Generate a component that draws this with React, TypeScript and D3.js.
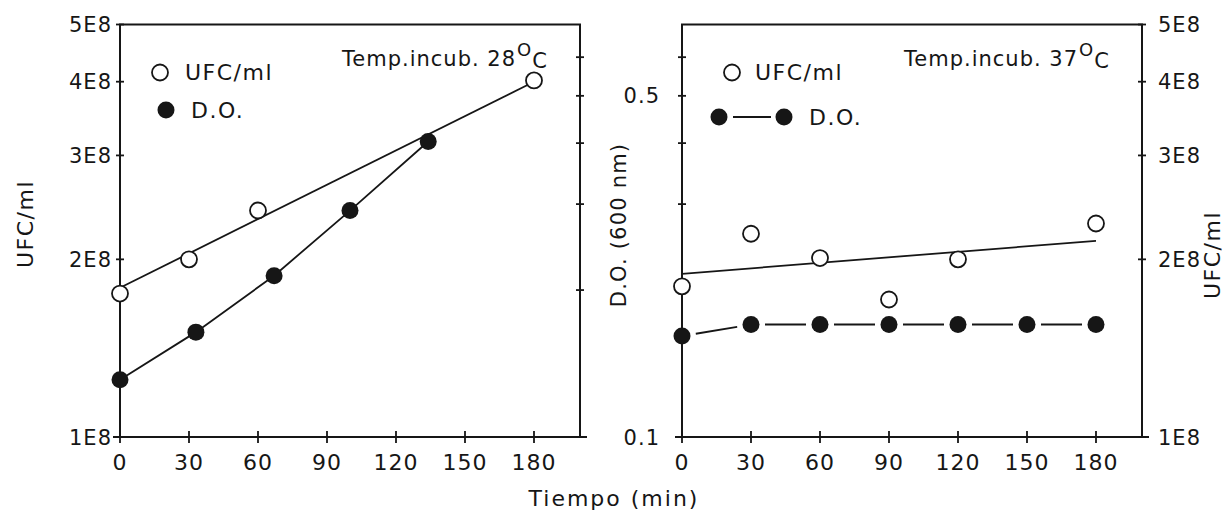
import React from "react";
import * as d3 from "d3";

// ---------- data ----------
const timeTicks = [0, 30, 60, 90, 120, 150, 180];
const timeTickLabels = ["0", "30", "60", "90", "120", "150", "180"];
const ufcTicks = [1e8, 2e8, 3e8, 4e8, 5e8];
const ufcTickLabels = ["1E8", "2E8", "3E8", "4E8", "5E8"];
const doTicks = [0.1, 0.2, 0.3, 0.4, 0.5, 0.6];
const doTickLabels = ["0.1", "", "", "", "0.5", ""];

// 28 °C
const t28Ufc = [0, 30, 60, 180];
const ufc28 = [1.75e8, 2.0e8, 2.42e8, 4.02e8];
const t28Fit = [0, 180];
const ufc28Fit = [1.79e8, 4.0e8];
const t28Do = [0, 33, 67, 100, 134];
const do28 = [0.131, 0.164, 0.214, 0.291, 0.403];

// 37 °C
const t37Ufc = [0, 30, 60, 90, 120, 180];
const ufc37 = [1.8e8, 2.21e8, 2.01e8, 1.71e8, 2.0e8, 2.3e8];
const t37Fit = [0, 180];
const ufc37Fit = [1.89e8, 2.15e8];
const t37Do = [0, 30, 60, 90, 120, 150, 180];
const do37 = [0.161, 0.17, 0.17, 0.17, 0.17, 0.17, 0.17];

// ---------- layout ----------
const W = 1229;
const H = 514;
const TOP = 24.5;
const BOTTOM = 437;
const FONT = "'DejaVu Sans', sans-serif";
const FS = 21;
const INK = "#161616";

type PanelProps = {
  x0: number;
  x1: number;
  ufcLabelsSide: "left" | "right";
  doLabels: boolean;
  tUfc: number[];
  ufc: number[];
  tFit: number[];
  ufcFit: number[];
  tDo: number[];
  doVals: number[];
  trimDo: boolean;
  temp: string;
  legendLine: boolean;
};

function Panel(p: PanelProps) {
  const x = d3.scaleLinear().domain([0, 200]).range([p.x0, p.x1]);
  const yU = d3.scaleLog().domain([1e8, 5e8]).range([BOTTOM, TOP]);
  const yD = d3.scaleLog().domain([0.1, 0.7]).range([BOTTOM, TOP]);

  const ufcAxisX = p.ufcLabelsSide === "left" ? p.x0 : p.x1;
  const doAxisX = p.ufcLabelsSide === "left" ? p.x1 : p.x0;

  const fitLine = d3
    .line<number>()
    .x((_, i) => x(p.tFit[i]))
    .y((d) => yU(d));

  const doPts = p.tDo.map((t, i) => [x(t), yD(p.doVals[i])] as [number, number]);
  const doLine = d3.line<[number, number]>();

  const segs: [number, number, number, number][] = [];
  if (p.trimDo) {
    const g = 14;
    for (let i = 0; i < doPts.length - 1; i++) {
      const [ax, ay] = doPts[i];
      const [bx, by] = doPts[i + 1];
      const len = Math.hypot(bx - ax, by - ay);
      const ux = (bx - ax) / len;
      const uy = (by - ay) / len;
      segs.push([ax + ux * g, ay + uy * g, bx - ux * g, by - uy * g]);
    }
  }

  const lgX = p.x0 + 40;
  return (
    <g>
      {/* frame */}
      <rect
        x={p.x0}
        y={TOP}
        width={p.x1 - p.x0}
        height={BOTTOM - TOP}
        fill="none"
        stroke={INK}
        strokeWidth={2}
      />
      {/* x ticks */}
      {timeTicks.map((t, i) => (
        <g key={"xt" + i}>
          <line x1={x(t)} x2={x(t)} y1={BOTTOM - 6} y2={BOTTOM + 6} stroke={INK} strokeWidth={1.8} />
          <text
            x={x(t)}
            y={BOTTOM + 33}
            textAnchor="middle"
            fontFamily={FONT}
            fontSize={22}
            letterSpacing={1}
            fill={INK}
          >
            {timeTickLabels[i]}
          </text>
        </g>
      ))}
      {/* extend bottom line */}
      <line x1={p.x0 - 7} x2={p.x1 + 7} y1={BOTTOM} y2={BOTTOM} stroke={INK} strokeWidth={2} />
      {/* UFC axis ticks */}
      {ufcTicks.map((v, i) => {
        const yy = yU(v);
        const left = p.ufcLabelsSide === "left";
        return (
          <g key={"yu" + i}>
            <line x1={ufcAxisX - 4} x2={ufcAxisX + 4} y1={yy} y2={yy} stroke={INK} strokeWidth={1.8} />
            <text
              x={left ? ufcAxisX - 8 : ufcAxisX + 16}
              y={yy}
              dy="0.36em"
              textAnchor={left ? "end" : "start"}
              fontFamily={FONT}
              fontSize={FS}
              letterSpacing={1}
              fill={INK}
            >
              {ufcTickLabels[i]}
            </text>
          </g>
        );
      })}
      {/* D.O. axis ticks */}
      {doTicks.map((v, i) => {
        const yy = yD(v);
        return (
          <g key={"yd" + i}>
            <line x1={doAxisX - 4} x2={doAxisX + 4} y1={yy} y2={yy} stroke={INK} strokeWidth={1.8} />
            {p.doLabels && doTickLabels[i] !== "" && (
              <text
                x={doAxisX - 22}
                y={yy}
                dy="0.36em"
                textAnchor="end"
                fontFamily={FONT}
                fontSize={FS}
                letterSpacing={1}
                fill={INK}
              >
                {doTickLabels[i]}
              </text>
            )}
          </g>
        );
      })}
      {/* UFC fit line */}
      <path d={fitLine(p.ufcFit) || ""} fill="none" stroke={INK} strokeWidth={1.8} />
      {/* D.O. line */}
      {p.trimDo ? (
        segs.map((s, i) => (
          <line key={"sg" + i} x1={s[0]} y1={s[1]} x2={s[2]} y2={s[3]} stroke={INK} strokeWidth={1.8} />
        ))
      ) : (
        <path d={doLine(doPts) || ""} fill="none" stroke={INK} strokeWidth={1.8} />
      )}
      {/* UFC points */}
      {p.tUfc.map((t, i) => (
        <circle
          key={"u" + i}
          cx={x(t)}
          cy={yU(p.ufc[i])}
          r={8}
          fill="white"
          stroke={INK}
          strokeWidth={1.8}
        />
      ))}
      {/* D.O. points */}
      {doPts.map((d, i) => (
        <circle key={"d" + i} cx={d[0]} cy={d[1]} r={8.5} fill={INK} />
      ))}
      {/* legend */}
      <circle
        cx={p.legendLine ? p.x0 + 50 : p.x0 + 40}
        cy={72.5}
        r={8}
        fill="white"
        stroke={INK}
        strokeWidth={1.8}
      />
      <text
        x={p.legendLine ? p.x0 + 73 : p.x0 + 65}
        y={72.5}
        dy="0.36em"
        fontFamily={FONT}
        fontSize={22}
        letterSpacing={1.5}
        fill={INK}
      >
        UFC/ml
      </text>
      {p.legendLine ? (
        <g>
          <circle cx={p.x0 + 37} cy={117} r={8.5} fill={INK} />
          <line x1={p.x0 + 51} x2={p.x0 + 89} y1={117} y2={117} stroke={INK} strokeWidth={1.8} />
          <circle cx={p.x0 + 102} cy={117} r={8.5} fill={INK} />
          <text x={p.x0 + 127} y={117} dy="0.36em" fontFamily={FONT} fontSize={22} letterSpacing={1.5} fill={INK}>
            D.O.
          </text>
        </g>
      ) : (
        <g>
          <circle cx={lgX + 6} cy={110} r={8.5} fill={INK} />
          <text x={p.x0 + 71} y={110} dy="0.36em" fontFamily={FONT} fontSize={22} letterSpacing={1.5} fill={INK}>
            D.O.
          </text>
        </g>
      )}
      {/* temperature note */}
      <text
        x={p.x0 + 222}
        y={66}
        fontFamily={FONT}
        fontSize={FS}
        letterSpacing={1}
        fill={INK}
      >
        {"Temp.incub. " + p.temp}
        <tspan fontSize={18} dy={-10} dx={1}>
          O
        </tspan>
        <tspan fontSize={FS} dy={12}>
          C
        </tspan>
      </text>
    </g>
  );
}

export default function App() {
  return (
    <svg
      width={W}
      height={H}
      viewBox={`0 0 ${W} ${H}`}
      style={{ position: "absolute", left: 0, top: 0, background: "white" }}
    >
      <rect x={0} y={0} width={W} height={H} fill="white" />
      <Panel
        x0={120}
        x1={580}
        ufcLabelsSide="left"
        doLabels={false}
        tUfc={t28Ufc}
        ufc={ufc28}
        tFit={t28Fit}
        ufcFit={ufc28Fit}
        tDo={t28Do}
        doVals={do28}
        trimDo={false}
        temp="28"
        legendLine={false}
      />
      <Panel
        x0={682}
        x1={1142}
        ufcLabelsSide="right"
        doLabels={true}
        tUfc={t37Ufc}
        ufc={ufc37}
        tFit={t37Fit}
        ufcFit={ufc37Fit}
        tDo={t37Do}
        doVals={do37}
        trimDo={true}
        temp="37"
        legendLine={true}
      />
      {/* axis titles */}
      <text
        transform="translate(25,224) rotate(-90)"
        textAnchor="middle"
        dy="0.36em"
        fontFamily={FONT}
        fontSize={22}
        letterSpacing={1.5}
        fill={INK}
      >
        UFC/ml
      </text>
      <text
        transform="translate(618,225) rotate(-90)"
        textAnchor="middle"
        dy="0.36em"
        fontFamily={FONT}
        fontSize={FS}
        letterSpacing={1.2}
        fill={INK}
      >
        D.O. (600 nm)
      </text>
      <text
        transform="translate(1212,255) rotate(-90)"
        textAnchor="middle"
        dy="0.36em"
        fontFamily={FONT}
        fontSize={22}
        letterSpacing={1.5}
        fill={INK}
      >
        UFC/ml
      </text>
      <text
        x={614}
        y={498}
        dy="0.36em"
        textAnchor="middle"
        fontFamily={FONT}
        fontSize={22}
        letterSpacing={2}
        fill={INK}
      >
        Tiempo (min)
      </text>
    </svg>
  );
}
